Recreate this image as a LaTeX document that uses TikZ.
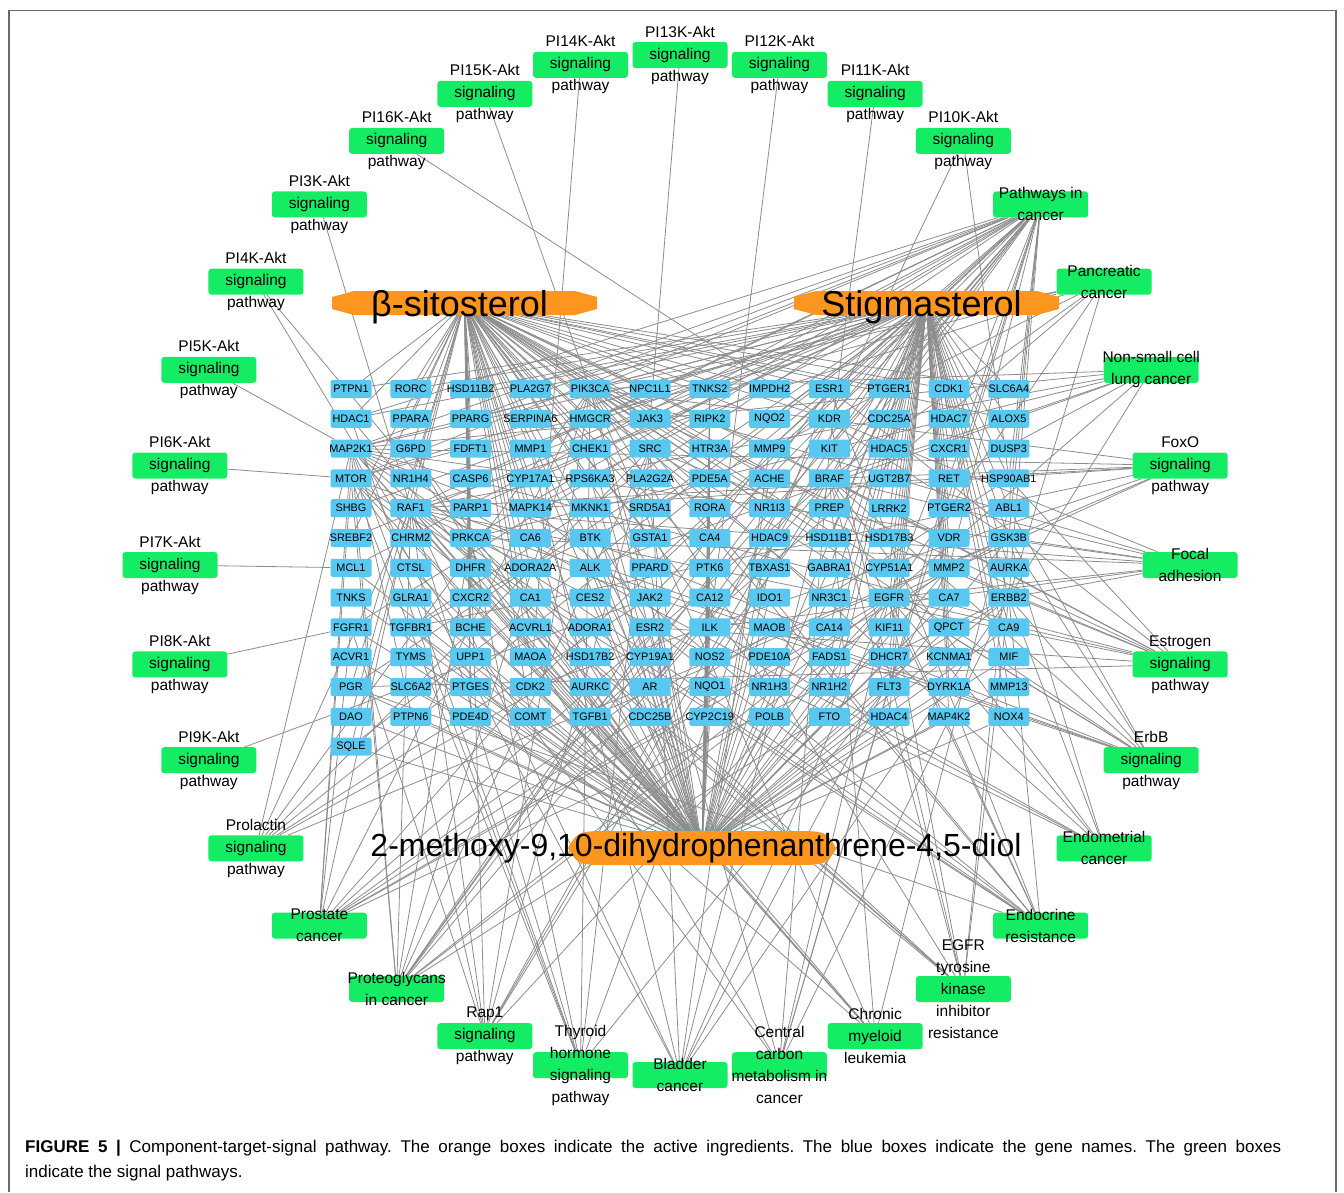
\documentclass[tikz,border=0pt]{standalone}
\usepackage{fontspec}
\setmainfont{Liberation Sans}
\definecolor{genecol}{RGB}{88,200,240}
\definecolor{pathcol}{RGB}{20,236,100}
\definecolor{drugcol}{RGB}{252,150,30}
\definecolor{linkcol}{RGB}{140,140,140}
\definecolor{framecol}{RGB}{105,105,105}
\pgfdeclarelayer{edges}
\pgfsetlayers{edges,main}
\frenchspacing

\begin{document}
\begin{tikzpicture}[x=1pt,y=-1pt,
  link/.style={draw=linkcol,line width=0.8pt},
  gene node/.style={rectangle,rounded corners=2pt,fill=genecol,minimum width=41pt,
    minimum height=18pt,inner sep=0pt,font=\fontsize{10.9}{12}\selectfont},
  path node/.style={rectangle,rounded corners=3pt,fill=pathcol,minimum width=95pt,
    minimum height=26pt,inner sep=0pt},
  path text/.style={align=center,inner sep=0pt,font=\fontsize{15.5}{22}\selectfont},
  drug node/.style={rectangle,minimum width=265pt,minimum height=24pt,inner sep=0pt,
    path picture={\fill[drugcol] ([yshift=-6pt]path picture bounding box.north west)
      -- ([xshift=22pt]path picture bounding box.north west)
      -- ([xshift=-22pt]path picture bounding box.north east)
      -- ([yshift=-6pt]path picture bounding box.north east)
      -- ([yshift=6pt]path picture bounding box.south east)
      -- ([xshift=-22pt]path picture bounding box.south east)
      -- ([xshift=22pt]path picture bounding box.south west)
      -- ([yshift=6pt]path picture bounding box.south west) -- cycle;}},
  drug oval/.style={rectangle,minimum width=268pt,minimum height=34pt,inner sep=0pt,
    path picture={\fill[drugcol] (path picture bounding box.west)
      .. controls ([xshift=10pt]path picture bounding box.north west) .. ([xshift=45pt]path picture bounding box.north west)
      -- ([xshift=-45pt]path picture bounding box.north east)
      .. controls ([xshift=-10pt]path picture bounding box.north east) .. (path picture bounding box.east)
      .. controls ([xshift=-10pt]path picture bounding box.south east) .. ([xshift=-45pt]path picture bounding box.south east)
      -- ([xshift=45pt]path picture bounding box.south west)
      .. controls ([xshift=10pt]path picture bounding box.south west) .. (path picture bounding box.west) -- cycle;}},
  drug text/.style={inner sep=0pt,font=\fontsize{36}{40}\selectfont},
  caption text/.style={inner sep=0pt,align=left,font=\fontsize{17}{25}\selectfont}]

  \useasboundingbox (0,0) rectangle (1344,1192);
  \draw[framecol,line width=1.4pt] (9,1192) -- (9,10.5) -- (1336,10.5) -- (1336,1192);

  % genes
  \foreach \rowlist [count=\r] in {
    {PTPN1,RORC,HSD11B2,PLA2G7,PIK3CA,NPC1L1,TNKS2,IMPDH2,ESR1,PTGER1,CDK1,SLC6A4},
    {HDAC1,PPARA,PPARG,SERPINA6,HMGCR,JAK3,RIPK2,NQO2,KDR,CDC25A,HDAC7,ALOX5},
    {MAP2K1,G6PD,FDFT1,MMP1,CHEK1,SRC,HTR3A,MMP9,KIT,HDAC5,CXCR1,DUSP3},
    {MTOR,NR1H4,CASP6,CYP17A1,RPS6KA3,PLA2G2A,PDE5A,ACHE,BRAF,UGT2B7,RET,HSP90AB1},
    {SHBG,RAF1,PARP1,MAPK14,MKNK1,SRD5A1,RORA,NR1I3,PREP,LRRK2,PTGER2,ABL1},
    {SREBF2,CHRM2,PRKCA,CA6,BTK,GSTA1,CA4,HDAC9,HSD11B1,HSD17B3,VDR,GSK3B},
    {MCL1,CTSL,DHFR,ADORA2A,ALK,PPARD,PTK6,TBXAS1,GABRA1,CYP51A1,MMP2,AURKA},
    {TNKS,GLRA1,CXCR2,CA1,CES2,JAK2,CA12,IDO1,NR3C1,EGFR,CA7,ERBB2},
    {FGFR1,TGFBR1,BCHE,ACVRL1,ADORA1,ESR2,ILK,MAOB,CA14,KIF11,QPCT,CA9},
    {ACVR1,TYMS,UPP1,MAOA,HSD17B2,CYP19A1,NOS2,PDE10A,FADS1,DHCR7,KCNMA1,MIF},
    {PGR,SLC6A2,PTGES,CDK2,AURKC,AR,NQO1,NR1H3,NR1H2,FLT3,DYRK1A,MMP13},
    {DAO,PTPN6,PDE4D,COMT,TGFB1,CDC25B,CYP2C19,POLB,FTO,HDAC4,MAP4K2,NOX4},
    {SQLE}}{
    \foreach \g [count=\c] in \rowlist {
      \node[gene node] (\g) at ({351+59.8*(\c-1)},{389+29.8*(\r-1)}) {\makebox[0pt]{\g}};
    }
  }

  % compounds
  \node[drug node,label={[drug text,xshift=-5pt,yshift=-4pt]center:β-sitosterol}] (bsit) at (464.5,303) {};
  \node[drug node,label={[drug text,xshift=-5pt,yshift=-4pt]center:Stigmasterol}] (stig) at (926.5,303) {};
  \node[drug oval,label={[drug text,xshift=-6pt,font=\fontsize{32}{36}\selectfont]center:2-methoxy-9,10-dihydrophenanthrene-4,5-diol}] (dihy) at (702,848) {};

  % pathways
  \foreach \pname/\ptext [count=\i from 0] in {
    pi13/{PI13K-Akt\\signaling\\pathway}, pi14/{PI14K-Akt\\signaling\\pathway},
    pi15/{PI15K-Akt\\signaling\\pathway}, pi16/{PI16K-Akt\\signaling\\pathway},
    pi3/{PI3K-Akt\\signaling\\pathway}, pi4/{PI4K-Akt\\signaling\\pathway},
    pi5/{PI5K-Akt\\signaling\\pathway}, pi6/{PI6K-Akt\\signaling\\pathway},
    pi7/{PI7K-Akt\\signaling\\pathway}, pi8/{PI8K-Akt\\signaling\\pathway},
    pi9/{PI9K-Akt\\signaling\\pathway}, prol/{Prolactin\\signaling\\pathway},
    prost/{Prostate\\cancer}, prot/{Proteoglycans\\in cancer},
    rap/{Rap1\\signaling\\pathway}, thyr/{Thyroid\\hormone\\signaling\\pathway},
    blad/{Bladder\\cancer}, ccm/{Central\\carbon\\metabolism in\\cancer},
    cml/{Chronic\\myeloid\\leukemia}, egfrtki/{EGFR\\tyrosine\\kinase\\inhibitor\\resistance},
    endores/{Endocrine\\resistance}, endomet/{Endometrial\\cancer},
    erbbp/{ErbB\\signaling\\pathway}, estro/{Estrogen\\signaling\\pathway},
    focal/{Focal\\adhesion}, foxo/{FoxO\\signaling\\pathway},
    nsclc/{Non-small cell\\lung cancer}, panc/{Pancreatic\\cancer},
    pcan/{Pathways in\\cancer}, pi10/{PI10K-Akt\\signaling\\pathway},
    pi11/{PI11K-Akt\\signaling\\pathway}, pi12/{PI12K-Akt\\signaling\\pathway}}{
    \pgfmathsetmacro\px{680+510*cos(90+11.25*\i)}
    \pgfmathsetmacro\py{565-510*sin(90+11.25*\i)}
    \node[path node,label={[path text]center:\ptext}] (\pname) at (\px,\py) {};
  }

  \node[caption text,anchor=north west] (caption) at (25,1140) {\makebox[1256pt][s]{\textbf{FIGURE 5 |} Component-target-signal pathway. The orange boxes indicate the active ingredients. The blue boxes indicate the gene names. The green boxes}\\indicate the signal pathways.};

  \begin{pgfonlayer}{edges}
  \foreach \g in {PTPN1,RORC,HSD11B2,PLA2G7,PIK3CA,NPC1L1,TNKS2,IMPDH2,ESR1,PTGER1,CDK1,SLC6A4,
    HDAC1,PPARA,PPARG,SERPINA6,HMGCR,JAK3,NQO2,KDR,ALOX5,G6PD,FDFT1,MMP1,CHEK1,SRC,HTR3A,MMP9,
    NR1H4,CASP6,CYP17A1,RPS6KA3,PLA2G2A,PDE5A,ACHE,SHBG,PARP1,MAPK14,SRD5A1,NR1I3,SREBF2,PRKCA,
    CA6,GSTA1,HSD11B1,HSD17B3,VDR,DHFR,ADORA2A,PPARD,CYP51A1,CXCR2,CA1,ESR2,NR3C1,ACVRL1,BCHE,
    MAOA,CYP19A1,HSD17B2,PGR,AR,NR1H3,NR1H2,PTGES,SQLE,DAO,COMT,PDE4D,TGFB1}
    \draw[link] (bsit.center) -- (\g);
  \foreach \g in {ESR1,PTGER1,CDK1,SLC6A4,CDC25A,HDAC7,ALOX5,KDR,NQO2,HDAC5,CXCR1,DUSP3,KIT,MMP9,
    UGT2B7,RET,HSP90AB1,BRAF,LRRK2,PTGER2,ABL1,PREP,HSD17B3,VDR,GSK3B,HSD11B1,MMP2,AURKA,CYP51A1,
    GABRA1,EGFR,CA7,ERBB2,NR3C1,KIF11,QPCT,CA9,CA14,DHCR7,KCNMA1,MIF,FADS1,FLT3,DYRK1A,MMP13,
    NR1H2,HDAC4,MAP4K2,NOX4,FTO,PTPN1,HMGCR,NPC1L1,PPARG,SRD5A1,SQLE,HSD11B2,PGR,AR,NR1H3,RORC,
    PLA2G7,SHBG,SREBF2,CYP17A1,CASP6,PARP1,MAPK14,HDAC1,MTOR,MAP2K1}
    \draw[link] (stig.center) -- (\g);
  \foreach \g in {MTOR,MCL1,TNKS,FGFR1,ACVR1,PGR,DAO,SQLE,CTSL,GLRA1,TGFBR1,TYMS,SLC6A2,PTPN6,
    CHRM2,RAF1,DHFR,CXCR2,BCHE,UPP1,PTGES,PDE4D,ADORA2A,CA1,ACVRL1,MAOA,CDK2,COMT,ALK,CES2,ADORA1,
    HSD17B2,AURKC,TGFB1,BTK,MKNK1,PPARD,JAK2,ESR2,CYP19A1,AR,CDC25B,CA4,PTK6,CA12,ILK,NOS2,NQO1,
    CYP2C19,HDAC9,TBXAS1,IDO1,MAOB,PDE10A,NR1H3,POLB,GABRA1,NR3C1,CA14,FADS1,NR1H2,FTO,EGFR,KIF11,
    DHCR7,FLT3,HDAC4,MMP2,CA7,QPCT,KCNMA1,DYRK1A,MAP4K2,ERBB2,CA9,MIF,MMP13,NOX4,RORA,PDE5A,ACHE,
    HTR3A,RIPK2,TNKS2,MMP1,MAP2K1,G6PD,CHEK1,RPS6KA3,PIK3CA,PRKCA,SRD5A1}
    \draw[link] (dihy.center) -- (\g);
  \foreach \p/\gl in {pi3/{RAF1}, pi4/{PRKCA,CHRM2}, pi5/{MAP2K1}, pi6/{MTOR}, pi7/{MCL1},
    pi8/{FGFR1}, pi9/{JAK2}, pi10/{KDR,HSP90AB1}, pi11/{KIT}, pi12/{ILK}, pi13/{JAK3},
    pi14/{CDK2}, pi15/{PIK3CA}, pi16/{GSK3B},
    pcan/{PIK3CA,MTOR,RAF1,MAP2K1,BRAF,KIT,EGFR,ERBB2,GSK3B,RET,ABL1,FGFR1,MMP1,MMP2,MMP9,AR,
      ESR1,PPARG,PPARD,JAK2,JAK3,TGFB1,TGFBR1,CDK2,HSP90AB1,PTGER1,PTGER2,FLT3,NOS2,PRKCA,MCL1,HDAC1},
    panc/{RAF1,BRAF,MAP2K1,EGFR,ERBB2,PIK3CA,MTOR,TGFB1,TGFBR1},
    nsclc/{RAF1,BRAF,MAP2K1,EGFR,ERBB2,ALK,PIK3CA,PRKCA,RET},
    foxo/{PIK3CA,BRAF,RAF1,MAP2K1,EGFR,TGFB1,TGFBR1,CDK2,MAPK14},
    focal/{PIK3CA,RAF1,BRAF,MAP2K1,EGFR,ERBB2,KDR,GSK3B,ILK,PRKCA},
    estro/{ESR1,ESR2,PIK3CA,RAF1,BRAF,MAP2K1,EGFR,MMP2,MMP9,HSP90AB1,PGR,SRC},
    erbbp/{EGFR,ERBB2,RAF1,BRAF,MAP2K1,MTOR,PIK3CA,GSK3B,PRKCA,ABL1,SRC},
    endomet/{EGFR,ERBB2,RAF1,BRAF,MAP2K1,PIK3CA,GSK3B,ILK},
    endores/{ESR1,ESR2,EGFR,ERBB2,RAF1,BRAF,MAP2K1,MTOR,PIK3CA,MAPK14,SRC,PGR},
    egfrtki/{EGFR,ERBB2,RAF1,BRAF,MAP2K1,MTOR,PIK3CA,KDR,PRKCA,GSK3B},
    cml/{ABL1,RAF1,BRAF,MAP2K1,PIK3CA,TGFB1,TGFBR1,HDAC1},
    ccm/{PIK3CA,MTOR,KIT,EGFR,ERBB2,FLT3,RET,G6PD},
    blad/{EGFR,ERBB2,RAF1,BRAF,MAP2K1,MMP1,MMP2,MMP9,SRC},
    thyr/{ESR1,PIK3CA,MTOR,RAF1,MAP2K1,PRKCA,HDAC1,GSK3B,SRC},
    rap/{RAF1,BRAF,MAP2K1,EGFR,KDR,KIT,FGFR1,PIK3CA,PRKCA,SRC},
    prot/{PIK3CA,MTOR,RAF1,BRAF,MAP2K1,EGFR,ERBB2,KDR,MMP2,MMP9,ESR1,TGFB1,SRC,PRKCA},
    prost/{AR,PIK3CA,MTOR,RAF1,BRAF,MAP2K1,EGFR,ERBB2,GSK3B,HSP90AB1,FGFR1,CDK2},
    prol/{ESR1,ESR2,JAK2,PIK3CA,RAF1,MAP2K1,GSK3B,SRC}}{
    \foreach \g in \gl {\draw[link] (\p) -- (\g);}
  }
  \end{pgfonlayer}

\end{tikzpicture}
\end{document}
